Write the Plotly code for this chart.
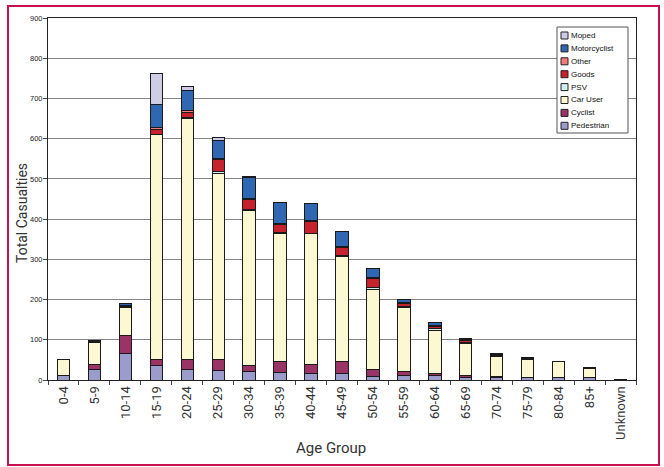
import plotly.graph_objects as go

age_groups = ["0-4", "5-9", "10-14", "15-19", "20-24", "25-29", "30-34", "35-39",
              "40-44", "45-49", "50-54", "55-59", "60-64", "65-69", "70-74",
              "75-79", "80-84", "85+", "Unknown"]

pedestrian = [10, 25, 66, 35, 25, 23, 20, 19, 16, 17, 8, 10, 12, 7, 5, 5, 6, 6, 0]
cyclist = [2, 13, 45, 16, 25, 27, 17, 28, 23, 28, 17, 11, 4, 3, 4, 2, 1, 1, 0]
car_user = [38, 55, 69, 560, 600, 464, 384, 318, 324, 261, 201, 160, 107, 81, 50, 44, 39, 22, 1]
psv = [0, 1, 3, 0, 2, 4, 2, 2, 2, 3, 4, 2, 5, 2, 2, 2, 0, 0, 0]
goods = [0, 1, 2, 11, 14, 29, 27, 20, 29, 20, 22, 6, 5, 6, 2, 2, 1, 2, 1]
other = [0, 0, 1, 5, 4, 3, 2, 1, 2, 3, 3, 4, 2, 2, 1, 0, 0, 0, 0]
motorcyclist = [0, 2, 3, 59, 49, 46, 51, 53, 42, 37, 23, 8, 8, 3, 2, 2, 0, 1, 0]
moped = [0, 0, 0, 77, 10, 7, 2, 0, 1, 0, 0, 0, 0, 0, 0, 0, 0, 0, 0]

series_names = ["Pedestrian", "Cyclist", "Car User", "PSV", "Goods", "Other", "Motorcyclist", "Moped"]
series_values = [pedestrian, cyclist, car_user, psv, goods, other, motorcyclist, moped]
series_colors = ["#9b9bcc", "#9a3466", "#fcf9d2", "#d2eff0", "#c7232e", "#f47c78", "#2f67b3", "#cfcde6"]

W, H = 664, 467
L, R, T, B = 48, 28, 18, 87
PW, PH = W - L - R, H - T - B


def px(x):
    return (x - L) / PW


def py(y):
    return (H - B - y) / PH


fig = go.Figure()
for name, vals, col in zip(series_names, series_values, series_colors):
    fig.add_trace(go.Bar(
        x=age_groups, y=vals, name=name,
        marker=dict(color=col, line=dict(color="#1a1a1a", width=1)),
    ))

fig.update_layout(
    width=W, height=H,
    barmode="stack", bargap=0.6,
    plot_bgcolor="white", paper_bgcolor="white",
    margin=dict(l=L, r=R, t=T, b=B),
    font=dict(family="Liberation Sans, Arial", color="#222"),
    showlegend=False,
)

fig.update_yaxes(
    range=[0, 900], dtick=100,
    showgrid=True, gridcolor="#858585", gridwidth=1,
    showline=True, linecolor="#222", linewidth=1, mirror=True,
    ticks="outside", ticklen=4, tickcolor="#444",
    ticklabelstandoff=-1,
    tickfont=dict(size=7.5, family="Liberation Sans, Arial"),
    zeroline=False,
)
fig.update_xaxes(
    showline=True, linecolor="#222", linewidth=1, mirror=True,
    ticks="outside", ticklen=4, tickcolor="#444", tickson="boundaries",
    tickangle=-90,
    tickfont=dict(size=13, family="Roboto", color="#333"),
)

# axis titles placed as text
fig.add_annotation(
    xref="paper", yref="paper", x=px(22), y=py(213),
    text="Total Casualties", showarrow=False, textangle=-90,
    xanchor="center", yanchor="middle",
    font=dict(size=14, family="Roboto", color="#333"),
)
fig.add_annotation(
    xref="paper", yref="paper", x=px(331), y=py(448),
    text="Age Group", showarrow=False,
    xanchor="center", yanchor="middle",
    font=dict(size=15, family="Roboto", color="#333"),
)

# outer frame
fig.add_shape(
    type="rect", xref="paper", yref="paper",
    x0=px(8), x1=px(659), y0=py(465), y1=py(6),
    line=dict(color="#c8104f", width=2), fillcolor="rgba(0,0,0,0)",
)

# legend box (drawn as shapes + text)
fig.add_shape(
    type="rect", xref="paper", yref="paper",
    x0=px(557), x1=px(628), y0=py(133), y1=py(27),
    line=dict(color="#555", width=1), fillcolor="white",
)
row0, step = 35.5, 12.9
for i, (name, col) in enumerate(zip(reversed(series_names), reversed(series_colors))):
    yc = row0 + i * step
    fig.add_shape(
        type="rect", xref="paper", yref="paper",
        x0=px(561), x1=px(568), y0=py(yc + 3.5), y1=py(yc - 3.5),
        line=dict(color="#222", width=1), fillcolor=col,
    )
    fig.add_annotation(
        xref="paper", yref="paper", x=px(569), y=py(yc),
        text=name, showarrow=False, xanchor="left", yanchor="middle",
        font=dict(size=8, family="Liberation Sans, Arial", color="#111"),
    )

fig.write_html("out.html", config={"displayModeBar": False},
               post_script="document.body.style.margin='0';")
